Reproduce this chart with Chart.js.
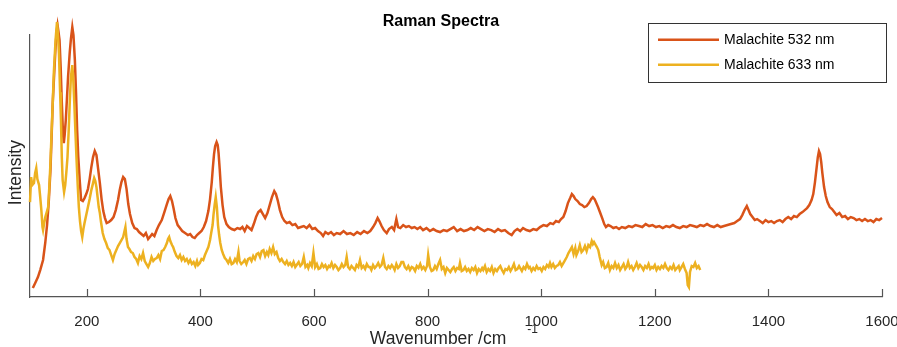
<!DOCTYPE html>
<html>
<head>
<meta charset="utf-8">
<script src="https://cdn.jsdelivr.net/npm/chart.js@4/dist/chart.umd.min.js"></script>
<style>
html,body{margin:0;padding:0;background:#fff;}
#wrap{width:897px;height:347px;}
</style>
</head>
<body>
<div id="wrap"><canvas id="c" width="897" height="347"></canvas></div>
<script>
// ---- data (wavenumber in cm^-1, intensity in arbitrary units) ----
const seriesLabels = ['Malachite 532 nm', 'Malachite 633 nm'];
const xTicks = [200, 400, 600, 800, 1000, 1200, 1400, 1600];

const wn532 = [105,110,114,118,123,127,130,133,136,138,140,143,145,147,148.5,150,152,154,156,158,159.5,161,163,165,167,170,172,174.5,176.5,179,181,183,185,187.5,190,193,196,199,202,205,208,211,214,217,220,223,226,229,232,235,239,243,247,251,255,258,261,264,267,270,273,276,280,284,288,292,296,300,304,308,311,315,319,323,327,332,336,341,344,347,350,353,356,360,364,368,373,378,382,386,390,394,398,402,406,410,414,417,420,422,424,426,428.5,430.5,432,434,436,439,442,446,450,455,460,465,470,474,478,482,486,490,494,498,502,506,510,514,518,522,526,530,533,536,540,544,548,552,557,562,567,572,577,582,587,592,597,602,607,612,616,620,625,630,635,640,646,652,658,664,670,676,682,688,694,699,704,708,712,715,719,723,728,732,737,741,745,748,752,757,762,767,772,777,782,787,792,798,804,810,816,822,828,834,840,846,852,858,864,870,876,882,888,894,900,906,912,918,924,930,936,942,948,953,958,963,968,974,980,986,992,998,1004,1010,1016,1021,1026,1031,1035,1039,1043,1047,1051,1054,1057,1060,1064,1068,1072,1076,1080,1084,1088,1091,1094,1097,1100,1104,1108,1111,1114,1118,1122,1127,1132,1137,1142,1148,1154,1160,1166,1172,1178,1184,1190,1196,1202,1208,1214,1220,1226,1232,1238,1244,1250,1256,1262,1268,1274,1280,1286,1292,1298,1304,1310,1316,1322,1328,1334,1340,1345,1350,1354,1358,1362,1365,1368,1372,1376,1380,1385,1390,1395,1400,1405,1410,1415,1420,1425,1430,1435,1440,1445,1450,1455,1460,1464,1468,1472,1476,1479,1482,1485,1487,1489,1491,1493,1495,1498,1501,1504,1508,1512,1516,1520,1525,1530,1535,1540,1545,1550,1555,1560,1565,1570,1575,1580,1585,1590,1595,1600];
const int532 = [9,15,20,27,37,55,72,95,127,160,194,228,250,266,272,266,257,230,195,165,154,162,177,198,220,245,258,270,262,237,205,167,140,117,97,96,99,103,108,118,130,140,146,142,128,114,98,86,79,74,75,77,80,87,97,107,115,120,118,108,93,83,74,69,68,65,63,61,64,58,60,63,61,67,72,77,84,93,98,101,96,88,79,72,69,66,64,62,63,60,59,62,64,66,70,76,86,98,115,130,143,151,155,152,144,128,110,92,80,73,70,68,67,69,68,70,66,71,69,67,73,80,85,87,83,79,84,92,100,106,103,97,87,80,76,74,75,72,73,69,70,71,69,72,68,69,66,64,61,65,63,65,62,64,63,66,63,64,62,65,63,66,64,66,70,74,79,76,71,67,64,68,70,67,78,70,69,72,70,71,69,70,68,70,67,69,66,68,66,65,67,66,68,70,66,68,66,67,69,67,70,68,66,68,67,65,68,66,67,64,62,66,68,66,69,67,66,68,67,70,72,71,74,73,76,75,78,80,86,94,99,103,101,98,96,93,92,90,91,94,98,100,98,94,90,84,78,73,70,72,71,69,70,68,70,69,71,70,72,71,70,73,71,72,70,71,69,71,70,72,70,69,71,70,72,71,70,72,71,73,71,70,72,70,71,72,73,74,76,78,82,87,91,87,83,80,77,78,76,74,77,75,76,74,76,77,75,78,80,78,81,80,83,85,87,89,92,97,103,115,130,140,146,143,135,124,110,101,95,90,88,85,82,84,80,81,78,80,79,77,78,76,78,76,77,75,78,77,79];

const wn633 = [100,102,104,107,109,111,113,116,118,120,122,123,125,127,130,132,134,136,138,140,142,145,147.5,149,151,153,154.5,156,157.5,160,162,164,166,168,170,172,174.5,176,178,180,182,184,186,188,190,192,194,196,199,202,205,208,211,213,215,217,219,221,223,225,228,231,234,237,240,243,246,249,252,255,258,261,264,266,268,270,272.5,275,278,281,284,287,290,293,296,299,302,305,308,311,314,317,320,323,326,329,332,335,338,341,343,345,347,350,352,355,358,361,364,367,370,373,376,379,382,385,388,391,394,396,399,402,405,408,411,414,417,419,421.5,423,425,427,429,431,433,435,437.5,440,443,446,449,452,455,458,461,464,467,469,472,475.5,478,481,484,487,490,493,496,499,502,505,508,511,514,517,519.5,522,525,528,531,534,537,540,543,546,549,552,555,558,561,564,567,569.5,573,576,579,582,585,588,590,593,596,599,602,605,608,611,614,617,620,623,626,628,631,634,637,640,643,646,649,652,655,657.5,660,663,666,669,672,675,678,681,684,687,690,693,696,698.5,701,704,707,710,713,716,719,722,725,728,731,734,737,739.5,742,745,748,751,754,757,760,763,766,769,772,775,778,781,784,787,790,793,796,799,801,804,807,810,813,816,819,822,825,828,831,834,837,840,843,846,849,852,855,857,860,863,866,869,872,875,878,881,884,887,890,893,896,898,901,904,907,910,913,916,919,922,925,928,931,934,937,940,943,946,949,952,955,958,961,963,966,969,972,975,978,980,983,986,989,992,995,998,1001,1004,1007,1010,1013,1015.5,1018,1021,1024,1027,1030,1033,1036,1039,1042,1045,1048,1051,1054,1057,1060,1062,1065,1068,1071,1074,1077,1080,1083,1086,1089,1091,1093,1096,1098,1100.5,1103,1106.5,1109,1112,1115,1118,1121,1124,1127,1130,1133,1136,1139,1142,1145,1148,1150.5,1153,1156,1159,1162,1165,1168,1171,1174,1177,1180,1183,1186,1189,1192,1195,1197,1200,1203,1206,1209,1212,1215,1218,1221,1224,1227,1230,1233,1236,1239,1242,1244,1247,1250,1253,1256,1258,1260,1262,1265,1268,1271,1274,1277,1280];
const int633 = [95,120,112,114,124,129,118,112,100,87,70,67,74,80,86,90,110,134,165,194,225,257,275,265,244,205,177,140,117,105,112,125,140,165,195,220,232,220,194,165,137,112,90,76,66,60,68,74,82,90,98,107,114,119,116,110,100,90,84,75,64,58,54,49,47,42,37,43,47,51,54,57,60,65,70,58,50,48,45,44,40,38,34,41,38,44,36,33,30,34,40,36,38,39,42,38,46,47,50,54,58,60,56,52,50,45,41,39,42,37,40,36,38,34,37,33,35,31,36,32,34,38,37,42,46,50,57,64,72,82,92,100,90,72,62,54,47,43,39,37,34,38,33,34,38,35,45,36,33,35,37,33,38,39,36,41,38,43,44,40,46,47,41,45,42,48,44,50,43,45,39,36,38,35,33,36,32,34,31,35,30,32,35,31,33,40,30,32,29,34,31,44,30,33,28,29,33,30,32,28,31,30,34,29,32,30,27,29,33,30,32,40,30,28,31,29,27,32,30,37,29,31,28,33,30,30,27,32,29,31,34,30,32,39,30,28,31,29,32,30,27,33,29,31,35,35,30,28,31,27,30,29,26,31,29,33,28,30,27,31,42,30,26,27,31,28,33,37,28,30,24,29,27,25,28,30,26,29,28,34,26,27,30,26,28,25,29,27,30,24,28,26,29,27,31,25,28,26,30,24,28,26,29,31,27,24,28,27,30,26,29,33,27,28,31,29,26,30,28,33,29,30,26,29,27,31,28,29,26,30,28,32,30,34,30,33,29,31,32,35,31,34,37,40,44,47,50,43,49,42,46,52,45,47,51,46,52,50,56,53,55,52,50,47,40,32,35,29,30,34,27,31,29,34,29,32,27,30,33,28,30,35,29,31,27,30,34,29,32,30,27,31,29,33,28,30,29,32,27,30,28,31,29,33,29,27,30,28,32,27,29,31,27,30,33,28,24,12,10,25,31,30,34,29,31,27];

const orange = '#D95319';
const yellow = '#EDB120';
const axisColor = '#555555';
const textColor = '#262626';
const FONT = '"Liberation Sans", Arial, Helvetica, sans-serif';

const toPts = (xs, ys) => xs.map((x, i) => ({x: x, y: ys[i]}));

// inward tick marks, axis labels and boxed legend
const decorations = {
  id: 'decorations',
  afterDraw(chart) {
    const {ctx, chartArea: a, scales: {x}} = chart;
    ctx.save();
    // inward x ticks
    ctx.strokeStyle = axisColor;
    ctx.lineWidth = 1.2;
    x.ticks.forEach(t => {
      const px = Math.round(x.getPixelForValue(t.value)) + 0.5;
      ctx.beginPath();
      ctx.moveTo(px, a.bottom);
      ctx.lineTo(px, a.bottom - 8);
      ctx.stroke();
    });
    // x label with superscript
    ctx.fillStyle = textColor;
    ctx.font = '17.5px ' + FONT;
    ctx.textBaseline = 'alphabetic';
    ctx.textAlign = 'center';
    const cx = (a.left + a.right) / 2 - 18;
    const main = 'Wavenumber /cm';
    ctx.fillText(main, cx, a.bottom + 47);
    const w = ctx.measureText(main).width;
    ctx.font = '12px ' + FONT;
    ctx.textAlign = 'left';
    ctx.fillText('-1', cx + w / 2 + 21, a.bottom + 36);
    // y label
    ctx.save();
    ctx.translate(20.5, (a.top + a.bottom) / 2 + 7);
    ctx.rotate(-Math.PI / 2);
    ctx.font = '17.5px ' + FONT;
    ctx.textAlign = 'center';
    ctx.textBaseline = 'alphabetic';
    ctx.fillText('Intensity', 0, 0);
    ctx.restore();
    // legend box
    const bx = a.right - 234, by = a.top - 11, bw = 238, bh = 59;
    ctx.fillStyle = '#ffffff';
    ctx.fillRect(bx, by, bw, bh);
    ctx.strokeStyle = '#333333';
    ctx.lineWidth = 1;
    ctx.strokeRect(Math.round(bx) + 0.5, Math.round(by) + 0.5, bw, bh);
    ctx.font = '14px ' + FONT;
    ctx.textBaseline = 'middle';
    ctx.textAlign = 'left';
    chart.data.datasets.forEach((ds, i) => {
      const ly = by + 16.5 + i * 25;
      ctx.strokeStyle = ds.borderColor;
      ctx.lineWidth = 2.5;
      ctx.beginPath();
      ctx.moveTo(bx + 10, ly);
      ctx.lineTo(bx + 71, ly);
      ctx.stroke();
      ctx.fillStyle = '#000000';
      ctx.fillText(ds.label, bx + 76, ly + 0.5);
    });
    ctx.restore();
  }
};

new Chart(document.getElementById('c'), {
  type: 'line',
  data: {
    datasets: [
      {label: seriesLabels[0], data: toPts(wn532, int532), borderColor: orange, backgroundColor: orange,
       borderWidth: 2.5, pointRadius: 0, tension: 0, clip: false, order: 1},
      {label: seriesLabels[1], data: toPts(wn633, int633), borderColor: yellow, backgroundColor: yellow,
       borderWidth: 2.5, pointRadius: 0, tension: 0, clip: false, order: 0}
    ]
  },
  options: {
    responsive: false,
    devicePixelRatio: 1,
    animation: false,
    layout: {padding: {left: 0, right: 15, top: 0, bottom: 0}},
    plugins: {
      legend: {display: false},
      tooltip: {enabled: false},
      title: {
        display: true, text: 'Raman Spectra', color: '#000',
        font: {family: FONT, size: 16, weight: 'bold'},
        padding: {top: 12, bottom: 3}
      }
    },
    scales: {
      x: {
        type: 'linear', min: 100, max: 1600,
        afterBuildTicks: s => { s.ticks = xTicks.map(v => ({value: v})); },
        afterFit: s => { s.height = 50; s.paddingLeft = 0; s.paddingRight = 0; },
        grid: {display: false},
        border: {display: true, color: axisColor, width: 1.2},
        ticks: {color: textColor, font: {family: FONT, size: 15}, padding: 8, maxRotation: 0,
                callback: v => String(v)}
      },
      y: {
        type: 'linear', min: 0, max: 263,
        afterFit: s => { s.width = 30; },
        grid: {display: false},
        border: {display: true, color: axisColor, width: 1.2},
        ticks: {display: false}
      }
    }
  },
  plugins: [decorations]
});
</script>
</body>
</html>
